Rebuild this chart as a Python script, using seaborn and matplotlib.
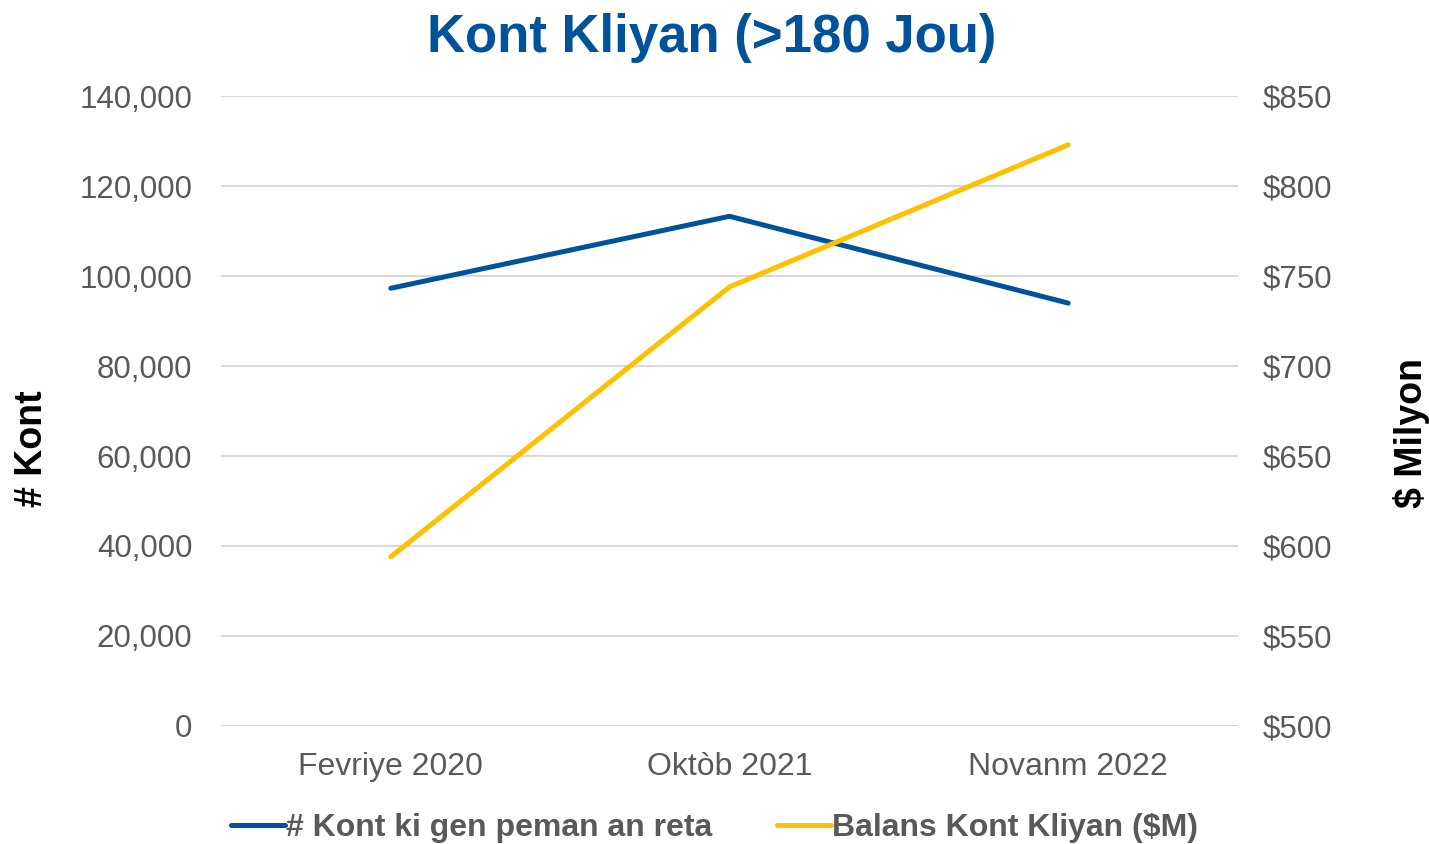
import matplotlib
matplotlib.use("Agg")
import matplotlib.pyplot as plt
import seaborn as sns
import pandas as pd
from matplotlib.ticker import FuncFormatter

# data
periods = ["Fevriye 2020", "Oktòb 2021", "Novanm 2022"]
accounts = [97300, 113300, 94000]
balance_m = [594, 744, 823]

label_accounts = "# Kont ki gen peman an reta"
label_balance = "Balans Kont Kliyan ($M)"

BLUE = "#00539B"
GOLD = "#FFC000"
GREY = "#595959"

sns.set_theme(style="white")
plt.rcParams["font.family"] = ["Liberation Sans", "DejaVu Sans"]

df = pd.DataFrame({"period": periods, "accounts": accounts, "balance": balance_m})

fig = plt.figure(figsize=(14.29, 8.44), dpi=100)
ax = fig.add_axes([0.155, 0.14, 0.711, 0.746])
ax2 = ax.twinx()

sns.lineplot(data=df, x="period", y="accounts", ax=ax, color=BLUE, linewidth=3.6,
             sort=False, label=label_accounts, legend=False, solid_capstyle="round")
sns.lineplot(data=df, x="period", y="balance", ax=ax2, color=GOLD, linewidth=3.6,
             sort=False, label=label_balance, legend=False, solid_capstyle="round")

ax.set_xlim(-0.5, 2.5)
ax.set_ylim(0, 140000)
ax.set_yticks(range(0, 140001, 20000))
ax.yaxis.set_major_formatter(FuncFormatter(lambda v, p: f"{int(v):,}"))
ax2.set_ylim(500, 850)
ax2.set_yticks(range(500, 851, 50))
ax2.yaxis.set_major_formatter(FuncFormatter(lambda v, p: f"${int(v)}"))

ax.grid(axis="y", color="#D9D9D9", linewidth=1.5)
ax.set_axisbelow(True)
for a in (ax, ax2):
    for s in a.spines.values():
        s.set_visible(False)
    a.tick_params(length=0, labelsize=22.5, labelcolor=GREY)
ax.tick_params(axis="y", pad=21)
ax2.tick_params(axis="y", pad=18)
ax.tick_params(axis="x", pad=19, labelsize=23)

ax.set_xlabel("")
ax.set_ylabel("# Kont", fontsize=27, fontweight="bold", color="black")
ax.yaxis.set_label_coords(-0.169, 0.44)
ax2.set_ylabel("$ Milyon", fontsize=27, fontweight="bold", color="black")
ax2.yaxis.set_label_coords(1.153, 0.465)

fig.suptitle("Kont Kliyan (>180 Jou)", x=0.498, y=0.985, fontsize=38,
             fontweight="bold", color=BLUE)

h1, l1 = ax.get_legend_handles_labels()
h2, l2 = ax2.get_legend_handles_labels()
leg = fig.legend(h1 + h2, l1 + l2, loc="lower center", bbox_to_anchor=(0.5, -0.033),
                 ncol=2, frameon=False, fontsize=23, handlelength=1.7,
                 handletextpad=0.05, columnspacing=2.0)
for t in leg.get_texts():
    t.set_color(GREY)
    t.set_fontweight("bold")

fig.savefig("out.png", dpi=100)
